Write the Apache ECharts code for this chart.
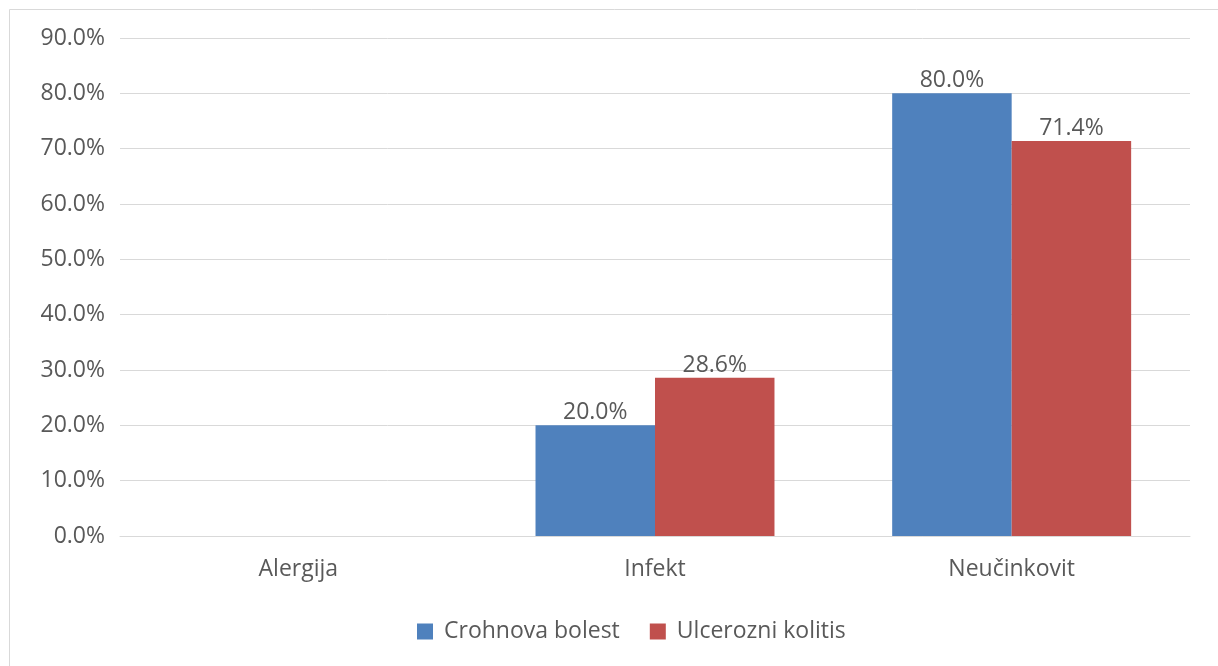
<!DOCTYPE html>
<html>
<head>
<meta charset="utf-8">
<script src="https://cdn.jsdelivr.net/npm/echarts@6/dist/echarts.min.js"></script>
<style>
  html, body { margin: 0; padding: 0; background: #fff; }
  #chart { width: 1218px; height: 666px; }
</style>
</head>
<body>
<div id="chart"></div>
<script>
// Reasons, in percent of patients per diagnosis
const categories = ['Alergija', 'Infekt', 'Neučinkovit'];
const crohnValues = [0, 20.0, 80.0];
const colitisValues = [0, 28.6, 71.4];
const seriesNames = ['Crohnova bolest', 'Ulcerozni kolitis'];

const textColor = '#595959';
const font = 'Open Sans';
const fontSize = 23;

const labelOpt = {
  show: true,
  position: 'top',
  distance: 1,
  color: textColor,
  fontFamily: font,
  fontSize: fontSize,
  formatter: p => (p.value === 0 ? '' : p.value.toFixed(1) + '%')
};

const chart = echarts.init(document.getElementById('chart'), null, { renderer: 'canvas' });
chart.setOption({
  animation: false,
  backgroundColor: '#fff',
  textStyle: { fontFamily: font },
  graphic: [{
    type: 'rect',
    shape: { x: 9.5, y: 9.5, width: 1230, height: 680 },
    style: { fill: 'none', stroke: '#d9d9d9', lineWidth: 1 },
    silent: true
  }],
  grid: { left: 120, right: 28, top: 38, bottom: 130, containLabel: false },
  legend: {
    bottom: 18,
    left: 412,
    itemWidth: 16,
    itemHeight: 16,
    itemGap: 30,
    icon: 'rect',
    textStyle: { color: textColor, fontSize: fontSize, fontFamily: font, padding: [0, 0, 0, 6] },
    data: seriesNames
  },
  xAxis: {
    type: 'category',
    data: categories,
    axisLine: { lineStyle: { color: '#d9d9d9', width: 1 } },
    axisTick: { show: false },
    axisLabel: { color: textColor, fontSize: fontSize, fontFamily: font, margin: 22 }
  },
  yAxis: {
    type: 'value',
    min: 0,
    max: 90,
    interval: 10,
    axisLine: { show: false },
    axisTick: { show: false },
    splitLine: { lineStyle: { color: '#d9d9d9', width: 1 } },
    axisLabel: {
      color: textColor, fontSize: fontSize, fontFamily: font, margin: 15,
      formatter: v => v.toFixed(1) + '%'
    }
  },
  series: [
    {
      name: seriesNames[0],
      type: 'bar',
      data: crohnValues,
      barGap: '0%',
      barCategoryGap: '33%',
      itemStyle: { color: '#4f81bd' },
      label: labelOpt
    },
    {
      name: seriesNames[1],
      type: 'bar',
      data: colitisValues,
      itemStyle: { color: '#c0504d' },
      label: labelOpt
    }
  ]
});
</script>
</body>
</html>
